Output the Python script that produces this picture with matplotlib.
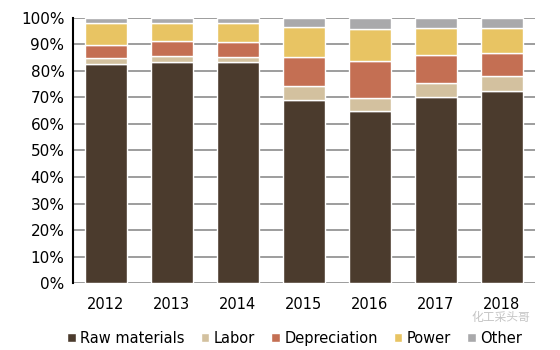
import numpy as np
import matplotlib.pyplot as plt

years = ["2012", "2013", "2014", "2015", "2016", "2017", "2018"]
raw = [82.5, 83.5, 83.3, 69.2, 64.9, 70.1, 72.6]
labor = [2.3, 2.3, 2.1, 5.2, 5.0, 5.5, 5.6]
depreciation = [5.0, 5.3, 5.6, 10.8, 13.9, 10.4, 8.5]
power = [8.4, 6.8, 7.0, 11.3, 12.0, 10.1, 9.4]
other = [1.8, 2.1, 2.0, 3.5, 4.2, 3.9, 3.9]

series = [raw, labor, depreciation, power, other]
nombres = ["Raw materials", "Labor", "Depreciation", "Power", "Other"]
colores = ["#4b3b2d", "#d3c19f", "#c46f53", "#e8c463", "#a9a9ab"]

fig = plt.figure(figsize=(5.6, 3.5), dpi=100)
ax = fig.add_axes([0.130, 0.191, 0.825, 0.758])

x = np.arange(len(years))
base = np.zeros(len(years))
for vals, nom, col in zip(series, nombres, colores):
    ax.bar(x, vals, 0.64, bottom=base, color=col, edgecolor="white",
           linewidth=1.0, label=nom, zorder=2)
    base += np.array(vals)

ax.set_xlim(-0.5, 6.5)
ax.set_ylim(0, 100)
ax.set_yticks(np.arange(0, 101, 10))
ax.set_yticklabels([f"{v}%" for v in range(0, 101, 10)], fontsize=11)
ax.set_xticks(x)
ax.set_xticklabels(years, fontsize=10.5)
ax.yaxis.grid(True, color="#8c8c8c", linewidth=1.2, zorder=0)
ax.set_axisbelow(True)
ax.tick_params(axis="y", length=0, pad=6)
ax.tick_params(axis="x", length=0, pad=10)
for s in ["top", "right", "bottom"]:
    ax.spines[s].set_visible(False)
ax.spines["left"].set_color("black")
ax.spines["left"].set_linewidth(1.5)

ax.legend(loc="upper center", bbox_to_anchor=(0.48, -0.13), ncol=5,
          frameon=False, fontsize=10.5, handlelength=0.6, handleheight=0.6,
          handletextpad=0.3, columnspacing=1.1)

# marca de agua
fig.text(0.895, 0.093, "化工采头哥", fontsize=8.5, color="#c4c4c4",
         family=["Noto Sans CJK SC", "DejaVu Sans"], ha="center", va="center")

plt.savefig("out.png", dpi=100)
